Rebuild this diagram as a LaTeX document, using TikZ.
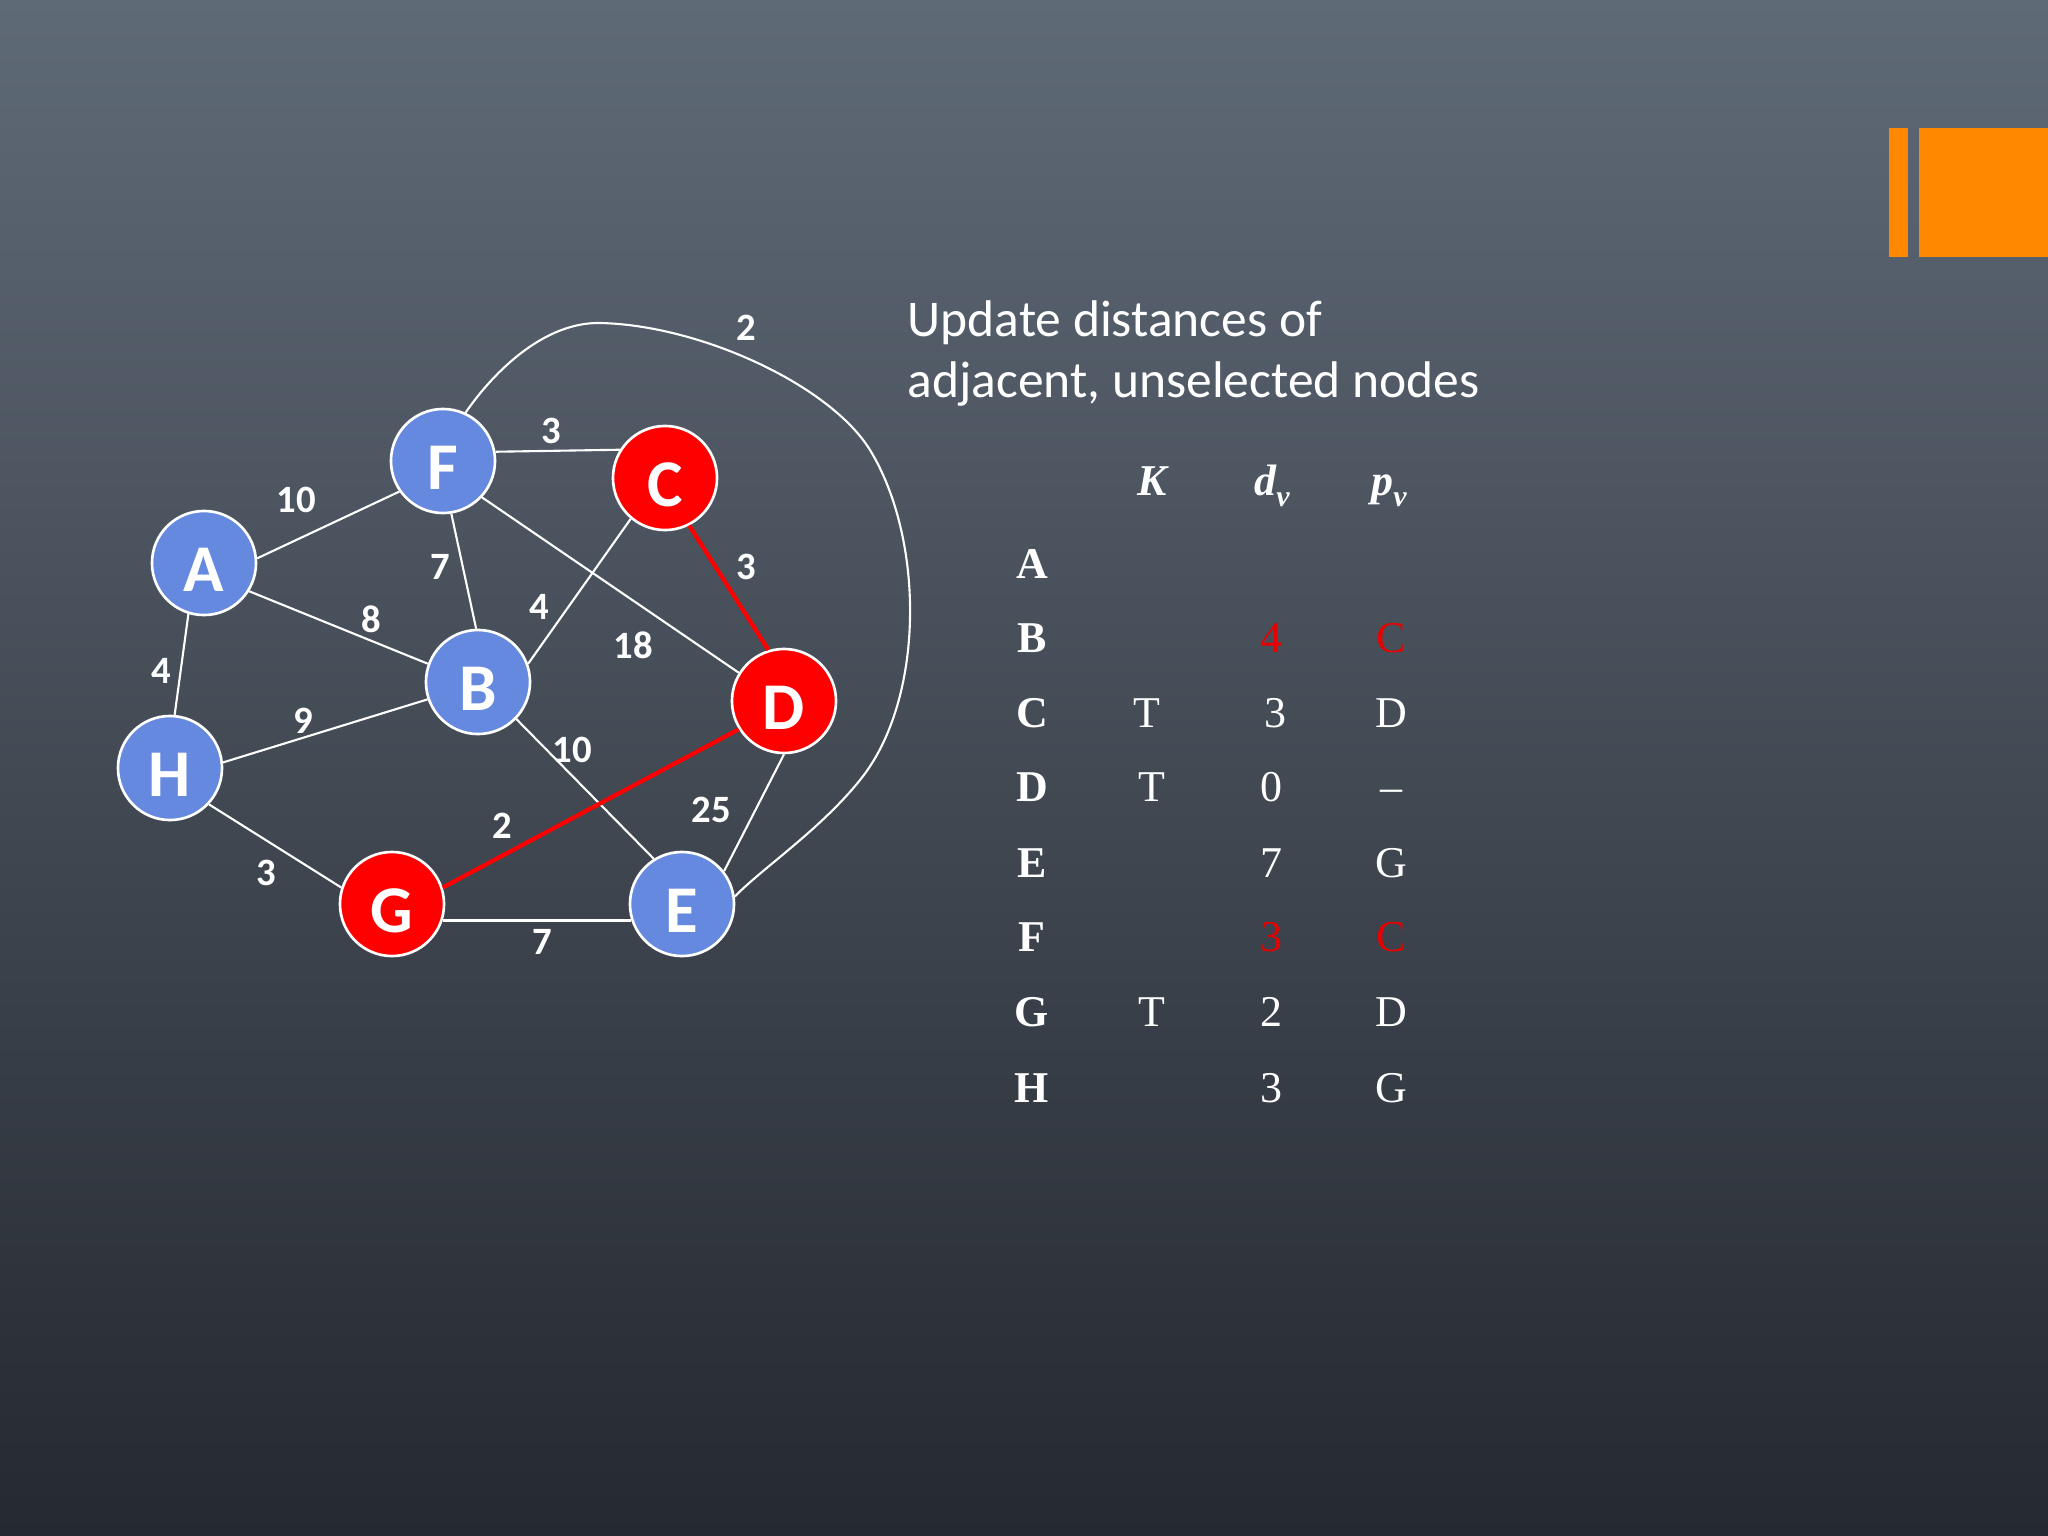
\documentclass[tikz,border=0pt]{standalone}
\usepackage{fontspec}
\setmainfont{Liberation Serif}
\newfontfamily\carlito{Carlito}
\definecolor{bgtop}{RGB}{95,106,119}
\definecolor{bgbot}{RGB}{37,41,48}
\definecolor{nblue}{RGB}{101,137,222}
\definecolor{nred}{RGB}{255,0,0}
\definecolor{tred}{RGB}{232,0,0}
\definecolor{orng}{RGB}{255,136,0}
\begin{document}
\begin{tikzpicture}[x=0.01cm,y=-0.01cm,
  gnode/.style={circle,draw=white,line width=0.75pt,minimum size=1.04cm,inner sep=0pt,
    text height=0.57cm,text depth=0cm,text=white,font=\carlito\bfseries\fontsize{19}{19}\selectfont},
  bnode/.style={gnode,fill=nblue},
  rnode/.style={gnode,fill=nred},
  edge/.style={draw=white,line width=0.6pt},
  redge/.style={draw=nred,line width=1.2pt},
  elab/.style={text=white,inner sep=0pt,font=\carlito\bfseries\fontsize{11}{11}\selectfont},
  ttl/.style={text=white,inner sep=0pt,anchor=base west,font=\carlito\fontsize{14.65}{14.65}\selectfont},
  tcell/.style={text=white,inner sep=0pt,anchor=base,font=\fontsize{12.5}{12.5}\selectfont},
  trow/.style={tcell,font=\bfseries\fontsize{12.5}{12.5}\selectfont},
  thead/.style={tcell,font=\bfseries\itshape\fontsize{12.5}{12.5}\selectfont},
  tredc/.style={tcell,text=tred}]
\useasboundingbox (0,0) rectangle (2048,1536);
\shade[top color=bgtop,bottom color=bgbot] (0,0) rectangle (2048,1536);
% orange bars
\fill[orng] (1889,128) rectangle (1908,257);
\fill[orng] (1919,128) rectangle (2048,257);
% title
\node[ttl] (t1) at (907,336) {Update distances of};
\node[ttl] (t2) at (907,397) {adjacent, unselected nodes};
% graph nodes
\node[bnode] (F) at (443,461) {F};
\node[rnode] (C) at (665,478) {C};
\node[bnode] (A) at (204,563) {A};
\node[bnode] (B) at (478,682) {B};
\node[rnode] (D) at (784,701) {D};
\node[bnode] (H) at (170,768) {H};
\node[rnode] (G) at (392,904) {G};
\node[bnode] (E) at (682,904) {E};
% edges
\draw[edge] (A.5) -- (F.215);
\draw[edge] (F.10) -- (C.148);
\draw[edge] (F.-81) -- (B.92);
\draw[edge] (F.-43) -- (D.148);
\draw[edge] (C.230) -- (B.20);
\draw[edge] (A.-32) -- (B.160);
\draw[edge] (A.253) -- (H.85);
\draw[edge] (H.6) -- (B.199);
\draw[edge] (B.-44) -- (E.122);
\draw[edge] (D.-90) -- (E.38);
\draw[edge] (H.-43) -- (G.162);
\draw[edge] (G.-18) -- (E.198);
\draw[redge] (C.-63) -- (D.107);
\draw[redge] (G.18) -- (D.212);
\draw[edge] (F.65) .. controls (495,370) and (545,322) .. (600,323)
  .. controls (700,325) and (830,385) .. (870,450)
  .. controls (925,540) and (925,700) .. (860,780)
  .. controls (820,830) and (760,870) .. (E.8);
% edge labels
\node[elab] (l1) at (746,328) {2};
\node[elab] (l2) at (551,431) {3};
\node[elab] (l3) at (296,500) {10};
\node[elab] (l4) at (440,567) {7};
\node[elab] (l5) at (746,567) {3};
\node[elab] (l6) at (371,619) {8};
\node[elab] (l7) at (539,607) {4};
\node[elab] (l8) at (633,645) {18};
\node[elab] (l9) at (161,671) {4};
\node[elab] (l10) at (303,721) {9};
\node[elab] (l11) at (572,750) {10};
\node[elab] (l12) at (502,826) {2};
\node[elab] (l13) at (711,810) {25};
\node[elab] (l14) at (266,873) {3};
\node[elab] (l15) at (542,942) {7};
% table header
\node[thead] (hK) at (1152,495) {K};
\node[thead] (hd) at (1272,495) {d\raisebox{-3.4pt}{\fontsize{8.5}{8.5}\selectfont v}};
\node[thead] (hp) at (1389,495) {p\raisebox{-3.4pt}{\fontsize{8.5}{8.5}\selectfont v}};
% row labels
\node[trow] (rA) at (1032,578) {A};
\node[trow] (rB) at (1032,652) {B};
\node[trow] (rC) at (1032,727) {C};
\node[trow] (rD) at (1032,801) {D};
\node[trow] (rE) at (1032,877) {E};
\node[trow] (rF) at (1032,951) {F};
\node[trow] (rG) at (1032,1026) {G};
\node[trow] (rH) at (1032,1102) {H};
% K column
\node[tcell] (kC) at (1147,727) {T};
\node[tcell] (kD) at (1152,801) {T};
\node[tcell] (kG) at (1152,1026) {T};
% d column
\node[tredc] (dB) at (1271,652) {4};
\node[tcell] (dC) at (1275,727) {3};
\node[tcell] (dD) at (1271,801) {0};
\node[tcell] (dE) at (1271,877) {7};
\node[tredc] (dF) at (1271,951) {3};
\node[tcell] (dG) at (1271,1026) {2};
\node[tcell] (dH) at (1271,1102) {3};
% p column
\node[tredc] (pB) at (1391,652) {C};
\node[tcell] (pC) at (1391,727) {D};
\node[tcell] (pD) at (1391,801) {–};
\node[tcell] (pE) at (1391,877) {G};
\node[tredc] (pF) at (1391,951) {C};
\node[tcell] (pG) at (1391,1026) {D};
\node[tcell] (pH) at (1391,1102) {G};
\end{tikzpicture}
\end{document}
